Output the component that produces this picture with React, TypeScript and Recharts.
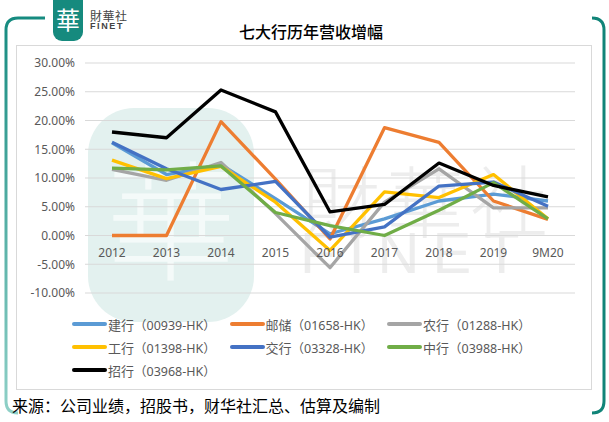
import React from 'react';
import { LineChart, Line, XAxis, YAxis, CartesianGrid } from 'recharts';

const categories = ['2012', '2013', '2014', '2015', '2016', '2017', '2018', '2019', '9M20'];
const ccb = [16.1, 10.6, 12.3, 6.4, 0.3, 2.9, 6.0, 7.2, 6.0];
const psbc = [0, 0, 19.8, 9.8, -0.6, 18.75, 16.2, 6.0, 2.8];
const abc = [11.5, 9.6, 12.7, 3.8, -5.6, 5.8, 11.6, 4.8, 4.8];
const icbc = [13.1, 9.9, 12.0, 5.8, -2.6, 7.6, 6.6, 10.6, 2.9];
const bocom = [16.2, 11.6, 8.0, 9.4, -0.3, 1.5, 8.6, 9.3, 5.1];
const boc = [11.7, 11.4, 12.1, 4.0, 1.7, 0.0, 4.4, 9.2, 2.9];
const cmb = [18.0, 17.0, 25.3, 21.5, 4.1, 5.4, 12.6, 8.7, 6.7];
const yTicks = [-10, -5, 0, 5, 10, 15, 20, 25, 30];

const series = [
  { key: 'ccb', name: '建行', code: '（00939-HK）', values: ccb, color: '#5B9BD5' },
  { key: 'psbc', name: '邮储', code: '（01658-HK）', values: psbc, color: '#ED7D31' },
  { key: 'abc', name: '农行', code: '（01288-HK）', values: abc, color: '#A5A5A5' },
  { key: 'icbc', name: '工行', code: '（01398-HK）', values: icbc, color: '#FFC000' },
  { key: 'bocom', name: '交行', code: '（03328-HK）', values: bocom, color: '#4472C4' },
  { key: 'boc', name: '中行', code: '（03988-HK）', values: boc, color: '#70AD47' },
  { key: 'cmb', name: '招行', code: '（03968-HK）', values: cmb, color: '#000000' },
];

const data = categories.map((c, i) => {
  const row: Record<string, string | number> = { cat: c };
  series.forEach((s) => {
    row[s.key] = s.values[i];
  });
  return row;
});

const FONT = '"Noto Sans", "Noto Sans CJK SC", sans-serif';
const CJK = '"Noto Sans CJK SC", sans-serif';

const XTick = (props: any) => {
  const { x, y, payload } = props;
  return (
    <text x={x} y={y} dy={-44} textAnchor="middle" fill="#595959" fontSize={12} fontFamily={FONT}>
      {payload.value}
    </text>
  );
};

export default function App() {
  return (
    <div style={{ position: 'absolute', left: 0, top: 0, width: 609, height: 422, background: '#fff', overflow: 'hidden' }}>
      {/* frame */}
      <svg width={609} height={422} style={{ position: 'absolute', left: 0, top: 0 }}>
        <defs>
          <linearGradient id="gTop" x1="0" y1="0" x2="1" y2="0">
            <stop offset="0" stopColor="#168b80" />
            <stop offset="1" stopColor="#8fd0c7" />
          </linearGradient>
          <linearGradient id="gBottom" x1="0" y1="0" x2="1" y2="0">
            <stop offset="0" stopColor="#a8ddd6" />
            <stop offset="1" stopColor="#0f8276" />
          </linearGradient>
          <linearGradient id="gLeft" x1="0" y1="0" x2="0" y2="1">
            <stop offset="0" stopColor="#168b80" />
            <stop offset="1" stopColor="#8fd0c7" />
          </linearGradient>
        </defs>
        <path d="M45 18 L18 18 Q6 18 6 30 L6 401 Q6 413 18 413" fill="none" stroke="url(#gLeft)" strokeWidth={3} />
        <path d="M138 18 L592 18" fill="none" stroke="url(#gTop)" strokeWidth={3} />
        <path d="M592 18 Q604 18 604 30 L604 401 Q604 413 592 413" fill="none" stroke="#118478" strokeWidth={3} />
        <path d="M18 413 L592 413" fill="none" stroke="url(#gBottom)" strokeWidth={3} />
      </svg>
      {/* logo */}
      <div style={{ position: 'absolute', left: 53, top: 0, width: 30, height: 41, background: '#168a7e', borderRadius: '0 0 9px 9px', color: '#fff', fontFamily: CJK, fontSize: 24, lineHeight: '38px', textAlign: 'center', fontWeight: 400 }}>華</div>
      <div style={{ position: 'absolute', left: 90, top: 9, fontFamily: CJK, fontSize: 12, color: '#444', lineHeight: '13px', letterSpacing: 0.5 }}>財華社</div>
      <div style={{ position: 'absolute', left: 90, top: 22, fontFamily: '"Liberation Sans", sans-serif', fontSize: 9, fontWeight: 700, color: '#444', letterSpacing: 1.6, lineHeight: '9px' }}>FINET</div>
      {/* title */}
      <div style={{ position: 'absolute', left: 0, top: 21, width: 622, textAlign: 'center', fontFamily: CJK, fontSize: 16, fontWeight: 500, color: '#000', lineHeight: '20px' }}>七大行历年营收增幅</div>
      {/* inner box */}
      <div style={{ position: 'absolute', left: 16, top: 45, width: 576, height: 345, border: '1px solid #d9d9d9', boxSizing: 'border-box' }} />
      {/* watermark */}
      <div style={{ position: 'absolute', left: 88, top: 108, width: 166, height: 214, background: '#e3f1ef', borderRadius: 46, overflow: 'hidden', color: '#f4faf9', fontFamily: CJK, fontSize: 130, lineHeight: '210px', textAlign: 'center', fontWeight: 300 }}>華</div>
      <div style={{ position: 'absolute', left: 302, top: 155, fontFamily: CJK, fontSize: 78, color: '#ededed', lineHeight: '86px', letterSpacing: 6, fontWeight: 300 }}>財華社</div>
      <div style={{ position: 'absolute', left: 300, top: 224, fontFamily: '"Liberation Sans", sans-serif', fontSize: 58, color: '#ededed', lineHeight: '58px', letterSpacing: 13 }}>FINET</div>
      {/* chart */}
      <div style={{ position: 'absolute', left: 0, top: 0 }}>
        <LineChart width={609} height={422} data={data} margin={{ top: 63, right: 34, left: 25, bottom: 99 }}>
          <CartesianGrid vertical={false} stroke="#d9d9d9" strokeWidth={1} />
          <XAxis dataKey="cat" height={30} axisLine={false} tickLine={false} tick={<XTick />} interval={0} padding={{ left: 27, right: 27 }} />
          <YAxis
            width={60}
            domain={[-10, 30]}
            ticks={yTicks}
            axisLine={false}
            tickLine={false}
            tickMargin={4}
            tick={{ fill: '#595959', fontSize: 12, fontFamily: FONT }}
            tickFormatter={(v: number) => `${v.toFixed(2)}%`}
          />
          {series.map((s) => (
            <Line
              key={s.key}
              dataKey={s.key}
              stroke={s.color}
              strokeWidth={3.3}
              dot={false}
              activeDot={false}
              isAnimationActive={false}
              strokeLinejoin="round"
            />
          ))}
        </LineChart>
      </div>
      {/* legend */}
      <div style={{ position: 'absolute', left: 72, top: 314, width: 480, display: 'flex', flexWrap: 'wrap', rowGap: 3 }}>
        {series.map((s) => (
          <div key={s.key} style={{ width: 157.5, height: 20, display: 'flex', alignItems: 'center', whiteSpace: 'nowrap' }}>
            <span style={{ display: 'inline-block', width: 35, height: 4, background: s.color, borderRadius: 2 }} />
            <span style={{ fontFamily: CJK, fontSize: 13, color: '#595959', marginLeft: 1 }}>{s.name}</span>
            <span style={{ fontFamily: FONT, fontSize: 12.5, color: '#595959' }}>{s.code}</span>
          </div>
        ))}
      </div>
      {/* source */}
      <div style={{ position: 'absolute', left: 12, top: 395, fontFamily: CJK, fontSize: 16, color: '#000', lineHeight: '20px' }}>来源：公司业绩，招股书，财华社汇总、估算及编制</div>
    </div>
  );
}
